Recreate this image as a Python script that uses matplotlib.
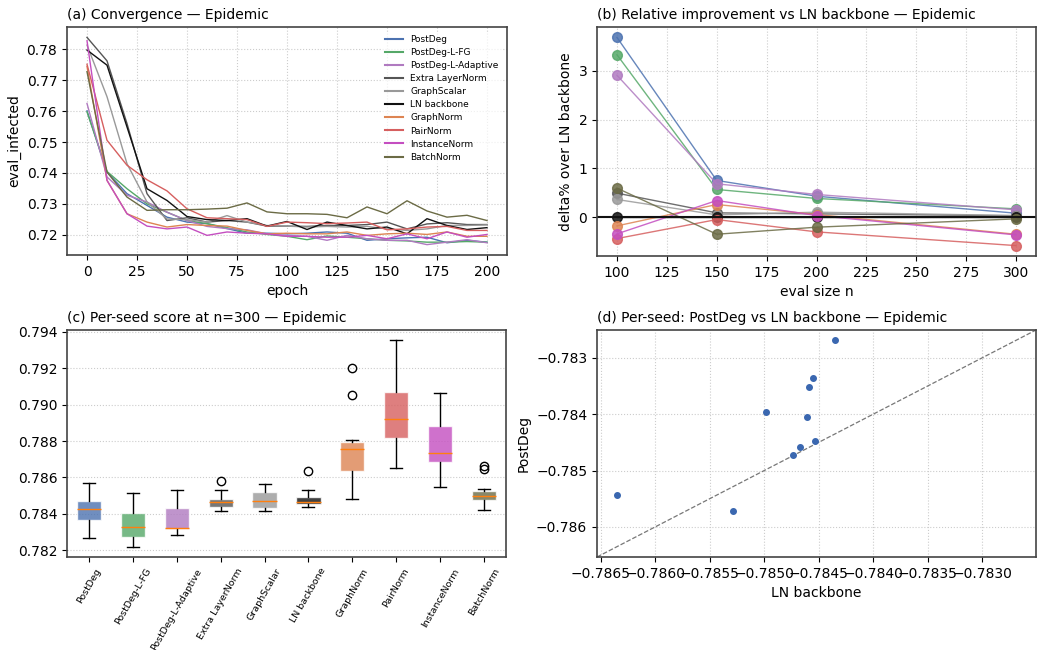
import numpy as np
import matplotlib
matplotlib.use("Agg")
import matplotlib.pyplot as plt

# ---------------- data ----------------
methods = ["PostDeg", "PostDeg-L-FG", "PostDeg-L-Adaptive", "Extra LayerNorm",
           "GraphScalar", "LN backbone", "GraphNorm", "PairNorm", "InstanceNorm", "BatchNorm"]
colors = ["#4C72B0", "#55A868", "#B07AC0", "#555555", "#999999", "#111111",
          "#DD8452", "#D65F5F", "#C44EC0", "#6B6B45"]

epochs = list(range(0, 201, 10))
conv_postdeg = [0.7601, 0.7403, 0.7333, 0.7295, 0.7257, 0.7241, 0.7236, 0.7220, 0.7205, 0.7205, 0.7203,
                0.7205, 0.7209, 0.7205, 0.7182, 0.7187, 0.7190, 0.7192, 0.7174, 0.7182, 0.7176]
conv_fg = [0.7598, 0.7405, 0.7349, 0.7300, 0.7273, 0.7246, 0.7236, 0.7223, 0.7209, 0.7201, 0.7195,
           0.7184, 0.7196, 0.7192, 0.7187, 0.7182, 0.7180, 0.7176, 0.7176, 0.7178, 0.7176]
conv_adapt = [0.7625, 0.7387, 0.7328, 0.7306, 0.7273, 0.7246, 0.7227, 0.7220, 0.7216, 0.7203, 0.7198,
              0.7195, 0.7182, 0.7198, 0.7187, 0.7182, 0.7182, 0.7168, 0.7176, 0.7184, 0.7174]
conv_extraln = [0.7839, 0.7763, 0.7560, 0.7333, 0.7246, 0.7255, 0.7241, 0.7246, 0.7241, 0.7228, 0.7228,
                0.7227, 0.7230, 0.7230, 0.7233, 0.7241, 0.7219, 0.7235, 0.7239, 0.7233, 0.7233]
conv_scalar = [0.7814, 0.7647, 0.7430, 0.7306, 0.7251, 0.7249, 0.7241, 0.7262, 0.7241, 0.7230, 0.7228,
               0.7225, 0.7227, 0.7225, 0.7227, 0.7219, 0.7214, 0.7219, 0.7230, 0.7230, 0.7232]
conv_ln = [0.7798, 0.7749, 0.7549, 0.7349, 0.7311, 0.7259, 0.7249, 0.7246, 0.7252, 0.7228, 0.7243,
           0.7217, 0.7241, 0.7230, 0.7219, 0.7225, 0.7203, 0.7252, 0.7230, 0.7217, 0.7223]
conv_graphnorm = [0.7745, 0.7376, 0.7268, 0.7241, 0.7225, 0.7233, 0.7230, 0.7228, 0.7214, 0.7203, 0.7205,
                  0.7203, 0.7203, 0.7209, 0.7198, 0.7203, 0.7205, 0.7201, 0.7209, 0.7195, 0.7195]
conv_pairnorm = [0.7752, 0.7506, 0.7425, 0.7378, 0.7342, 0.7284, 0.7255, 0.7252, 0.7249, 0.7227, 0.7241,
                 0.7239, 0.7236, 0.7238, 0.7241, 0.7216, 0.7219, 0.7225, 0.7227, 0.7214, 0.7214]
conv_instnorm = [0.7828, 0.7376, 0.7268, 0.7228, 0.7219, 0.7225, 0.7198, 0.7209, 0.7205, 0.7203, 0.7195,
                 0.7195, 0.7192, 0.7192, 0.7198, 0.7187, 0.7203, 0.7187, 0.7209, 0.7192, 0.7201]
conv_batchnorm = [0.7728, 0.7403, 0.7322, 0.7279, 0.7281, 0.7281, 0.7283, 0.7286, 0.7303, 0.7274, 0.7268,
                  0.7268, 0.7266, 0.7255, 0.7290, 0.7268, 0.7310, 0.7277, 0.7257, 0.7263, 0.7246]
conv_all = [conv_postdeg, conv_fg, conv_adapt, conv_extraln, conv_scalar, conv_ln,
            conv_graphnorm, conv_pairnorm, conv_instnorm, conv_batchnorm]

eval_sizes = [100, 150, 200, 300]
delta_postdeg = [3.685, 0.753, 0.430, 0.082]
delta_fg = [3.330, 0.568, 0.384, 0.171]
delta_adapt = [2.910, 0.685, 0.466, 0.151]
delta_extraln = [0.493, 0.089, 0.068, 0.030]
delta_scalar = [0.363, 0.048, 0.103, 0.034]
delta_ln = [0.0, 0.0, 0.0, 0.0]
delta_graphnorm = [-0.178, 0.260, 0.055, -0.350]
delta_pairnorm = [-0.438, -0.048, -0.301, -0.582]
delta_instnorm = [-0.342, 0.342, 0.034, -0.363]
delta_batchnorm = [0.596, -0.349, -0.205, -0.034]
delta_all = [delta_postdeg, delta_fg, delta_adapt, delta_extraln, delta_scalar, delta_ln,
             delta_graphnorm, delta_pairnorm, delta_instnorm, delta_batchnorm]

# per-seed scores at n=300 (10 seeds)
seeds_postdeg = [0.78544, 0.78572, 0.78397, 0.78472, 0.78458, 0.78405, 0.78352, 0.78335, 0.78447, 0.78269]
seeds_ln = [0.78635, 0.78529, 0.78498, 0.78474, 0.78467, 0.78461, 0.78459, 0.78455, 0.78453, 0.78435]
seeds_fg = [0.78219, 0.78250, 0.78270, 0.78282, 0.78318, 0.78342, 0.78391, 0.78407, 0.78460, 0.78514]
seeds_adapt = [0.78284, 0.78300, 0.78314, 0.78317, 0.78318, 0.78320, 0.78422, 0.78438, 0.78480, 0.78529]
seeds_extraln = [0.78414, 0.78430, 0.78437, 0.78445, 0.78458, 0.78468, 0.78474, 0.78481, 0.78531, 0.78580]
seeds_scalar = [0.78416, 0.78425, 0.78431, 0.78443, 0.78462, 0.78478, 0.78510, 0.78525, 0.78545, 0.78565]
seeds_graphnorm = [0.78481, 0.78560, 0.78625, 0.78677, 0.78748, 0.78762, 0.78770, 0.78804, 0.79052, 0.79203]
seeds_pairnorm = [0.78649, 0.78760, 0.78805, 0.78857, 0.78900, 0.78942, 0.79040, 0.79077, 0.79180, 0.79354]
seeds_instnorm = [0.78547, 0.78640, 0.78678, 0.78702, 0.78722, 0.78744, 0.78850, 0.78895, 0.78960, 0.79063]
seeds_batchnorm = [0.78419, 0.78450, 0.78473, 0.78486, 0.78494, 0.78504, 0.78506, 0.78534, 0.78647, 0.78662]
seeds_all = [seeds_postdeg, seeds_fg, seeds_adapt, seeds_extraln, seeds_scalar, seeds_ln,
             seeds_graphnorm, seeds_pairnorm, seeds_instnorm, seeds_batchnorm]

# ---------------- figure ----------------
W, H = 1037, 650
fig = plt.figure(figsize=(W / 100, H / 100), dpi=100)


def px_axes(l, t, r, b):
    return fig.add_axes([l / W, 1 - b / H, (r - l) / W, (b - t) / H])


def style(ax):
    ax.grid(True, ls=':', color='#cccccc', lw=0.8)
    ax.set_axisbelow(True)
    for s in ax.spines.values():
        s.set_color('#444444')
        s.set_linewidth(1.2)


axA = px_axes(67, 27, 507, 255)
axB = px_axes(597, 27, 1036, 256)
axC = px_axes(67, 330, 506, 557)
axD = px_axes(597, 330, 1036, 557)
for ax in (axA, axB, axC, axD):
    style(ax)

# (a)
for name, col, ys in zip(methods, colors, conv_all):
    axA.plot(epochs, ys, color=col, lw=1.0, label=name)
axA.set_title("(a) Convergence — Epidemic", loc='left', fontsize=10)
axA.set_xlabel("epoch")
axA.set_ylabel("eval_infected")
leg = axA.legend(loc='upper right', fontsize=6.5, frameon=True, framealpha=0.7,
                 edgecolor='none', handlelength=2.0, labelspacing=0.45)
for h in leg.get_lines():
    h.set_linewidth(1.5)

# (b)
for name, col, ys in zip(methods, colors, delta_all):
    axB.plot(eval_sizes, ys, color=col, lw=1.0, marker='o', ms=7, alpha=0.85)
axB.axhline(0, color='#111111', lw=1.5)
axB.set_title("(b) Relative improvement vs LN backbone — Epidemic", loc='left', fontsize=10)
axB.set_xlabel("eval size n")
axB.set_ylabel("delta% over LN backbone")

# (c)
bp = axC.boxplot(seeds_all, widths=0.55, patch_artist=True)
for patch, col in zip(bp['boxes'], colors):
    patch.set_facecolor(col)
    patch.set_alpha(0.8)
    patch.set_edgecolor('white')
for med in bp['medians']:
    med.set_color('#ff7f0e')
axC.set_xticks(range(1, len(methods) + 1))
axC.set_xticklabels(methods, rotation=60, ha='center', fontsize=6.8)
axC.set_title("(c) Per-seed score at n=300 — Epidemic", loc='left', fontsize=10)
axC.grid(True, axis='y', ls=':', color='#cccccc', lw=0.8)
axC.grid(False, axis='x')

# (d)
xd = -np.array(seeds_ln)
yd = -np.array(seeds_postdeg)
axD.scatter(xd, yd, s=16, color='#3a67b0', zorder=3)
lo = min(xd.min(), yd.min())
hi = max(xd.max(), yd.max())
pad = 0.05 * (hi - lo)
lo, hi = lo - pad, hi + pad
axD.plot([lo, hi], [lo, hi], ls='--', color='#777777', lw=0.9)
axD.set_xlim(lo, hi)
axD.set_ylim(lo, hi)
axD.set_xticks([-0.7865, -0.7860, -0.7855, -0.7850, -0.7845, -0.7840, -0.7835, -0.7830])
axD.set_yticks([-0.786, -0.785, -0.784, -0.783])
axD.set_title("(d) Per-seed: PostDeg vs LN backbone — Epidemic", loc='left', fontsize=10)
axD.set_xlabel("LN backbone")
axD.set_ylabel("PostDeg")

fig.savefig("out.png", dpi=100)
